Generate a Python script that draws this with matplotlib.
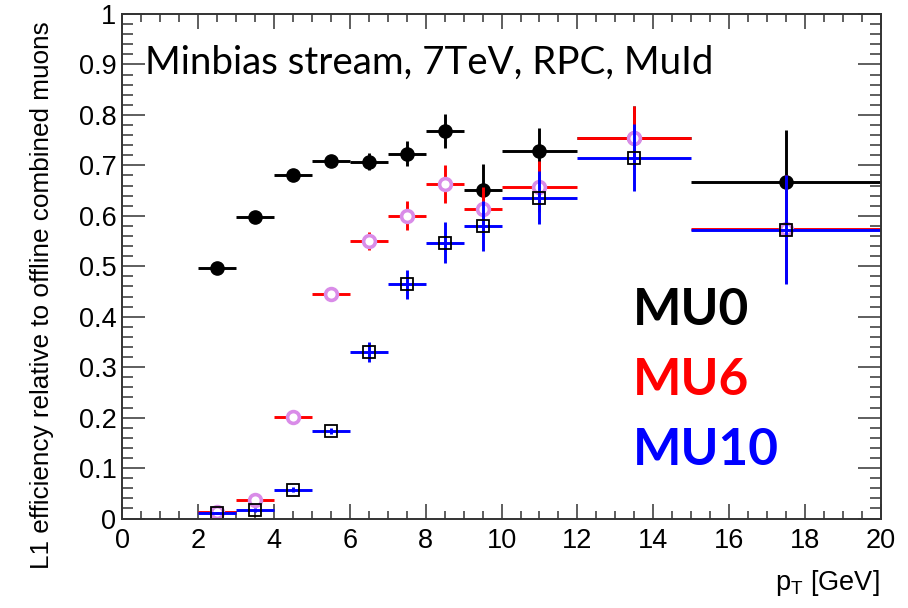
import matplotlib
matplotlib.use("Agg")
import matplotlib.pyplot as plt
from matplotlib.ticker import MultipleLocator, FuncFormatter

# pT bins (centre and half width)
pt_centre = [2.5, 3.5, 4.5, 5.5, 6.5, 7.5, 8.5, 9.5, 11.0, 13.5, 17.5]
pt_half = [0.5, 0.5, 0.5, 0.5, 0.5, 0.5, 0.5, 0.5, 1.0, 1.5, 2.5]

# L1 efficiencies
mu0_eff = [0.496, 0.598, 0.681, 0.709, 0.707, 0.723, 0.768, 0.651, 0.729, 0.755, 0.667]
mu0_err = [0.006, 0.006, 0.007, 0.008, 0.017, 0.025, 0.033, 0.052, 0.046, 0.062, 0.103]
mu6_eff = [0.013, 0.036, 0.201, 0.444, 0.550, 0.600, 0.663, 0.613, 0.658, 0.755, 0.573]
mu6_err = [0.003, 0.006, 0.006, 0.008, 0.017, 0.029, 0.038, 0.045, 0.050, 0.063, 0.107]
mu10_eff = [0.011, 0.016, 0.057, 0.173, 0.330, 0.464, 0.547, 0.580, 0.636, 0.715, 0.572]
mu10_err = [0.002, 0.004, 0.005, 0.006, 0.019, 0.028, 0.040, 0.050, 0.052, 0.066, 0.108]

plt.rcParams['font.family'] = ['Liberation Sans', 'DejaVu Sans']

fig = plt.figure(figsize=(9.08, 6.08), dpi=100)
ax = fig.add_axes([0.1344, 0.1472, 0.8359, 0.8298])

violet = '#d98ce8'

# MU0
ax.errorbar(pt_centre, mu0_eff, xerr=pt_half, yerr=mu0_err, fmt='none',
            ecolor='black', elinewidth=2.1, capsize=0, zorder=2.0)
ax.plot(pt_centre, mu0_eff, 'o', color='black', markersize=9.5, zorder=2.1)
# MU6
ax.errorbar(pt_centre, mu6_eff, xerr=pt_half, yerr=mu6_err, fmt='none',
            ecolor='red', elinewidth=2.1, capsize=0, zorder=2.2)
ax.plot(pt_centre, mu6_eff, 'o', markerfacecolor='white', markeredgecolor=violet,
        markeredgewidth=2.6, markersize=8.5, zorder=2.3)
# MU10
ax.errorbar(pt_centre, mu10_eff, xerr=pt_half, yerr=mu10_err, fmt='none',
            ecolor='blue', elinewidth=2.1, capsize=0, zorder=2.4)
ax.plot(pt_centre, mu10_eff, 's', markerfacecolor='none', markeredgecolor='black',
        markeredgewidth=1.3, markersize=9.2, zorder=2.5)

ax.set_xlim(0, 20)
ax.set_ylim(0, 1)
ax.xaxis.set_major_locator(MultipleLocator(2))
ax.xaxis.set_minor_locator(MultipleLocator(0.5))
ax.yaxis.set_major_locator(MultipleLocator(0.1))
ax.yaxis.set_minor_locator(MultipleLocator(0.02))
ax.yaxis.set_major_formatter(FuncFormatter(lambda v, p: f"{v:g}"))
ax.xaxis.set_major_formatter(FuncFormatter(lambda v, p: f"{v:g}"))

ax.tick_params(which='both', direction='in', top=True, right=True,
               color='#333333', width=1.1, labelsize=19.5)
ax.tick_params(axis='x', which='major', length=10.8, pad=7)
ax.tick_params(axis='x', which='minor', length=5.8)
ax.tick_params(axis='y', which='major', length=16.5, pad=4)
ax.tick_params(axis='y', which='minor', length=8)
for s in ax.spines.values():
    s.set_linewidth(1.4)
    s.set_color('#333333')

fig.text(42 / 908, 1 - 295 / 608, 'L1 efficiency relative to offline combined muons',
         rotation=90, ha='center', va='center', fontsize=18.8)
fig.text(880 / 908, 1 - 583 / 608, r'p$_\mathregular{T}$ [GeV]',
         ha='right', va='center', fontsize=19.5)

ax.text(0.0303, 0.903, 'Minbias stream, 7TeV, RPC, MuId', transform=ax.transAxes,
        ha='left', va='center', fontsize=27.7, family='Lato')
ax.text(0.673, 0.413, 'MU0', transform=ax.transAxes, ha='left', va='center',
        fontsize=37, fontweight='bold', family='Lato', color='black')
ax.text(0.673, 0.2745, 'MU6', transform=ax.transAxes, ha='left', va='center',
        fontsize=37, fontweight='bold', family='Lato', color='#ff0000')
ax.text(0.673, 0.134, 'MU10', transform=ax.transAxes, ha='left', va='center',
        fontsize=37, fontweight='bold', family='Lato', color='#0000ff')

fig.savefig('out.png', dpi=100)
